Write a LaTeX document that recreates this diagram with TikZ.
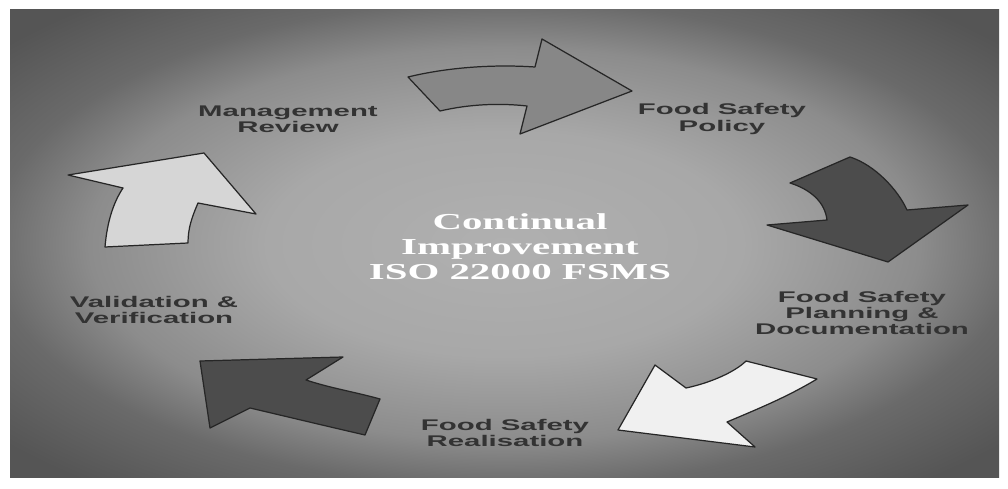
\documentclass[tikz,border=0pt]{standalone}
\usepackage{fontspec}
\setmainfont{Liberation Serif}
\setsansfont{Liberation Sans}
\usepackage{tikz}

\definecolor{bglight}{HTML}{B0B0B0}
\definecolor{bgsoft}{HTML}{A8A8A8}
\definecolor{bgmid}{HTML}{8C8C8C}
\definecolor{bgshadow}{HTML}{6A6A6A}
\definecolor{bgdark}{HTML}{555555}
\definecolor{labelgray}{HTML}{333333}
\definecolor{arrowmid}{HTML}{878787}
\definecolor{arrowdark}{HTML}{4C4C4C}
\definecolor{arrowlight}{HTML}{F0F0F0}
\definecolor{arrowpale}{HTML}{D6D6D6}
\pgfdeclareradialshading{bgglow}{\pgfpoint{0bp}{0bp}}{color(0bp)=(bglight); color(12bp)=(bgsoft); color(21bp)=(bgmid); color(26bp)=(bgshadow); color(33bp)=(bgdark); color(45bp)=(bgdark)}

\begin{document}
\begin{tikzpicture}[x=0.02cm,y=-0.02cm,
    arrowshape/.style={draw=black!85,line width=0.7pt,line join=round},
    steplabel/.style={font=\sffamily\bfseries\fontsize{8.8}{9.3}\selectfont,text=labelgray,align=center,xscale=1.9},
    centretext/.style={font=\bfseries\fontsize{13}{14.2}\selectfont,text=white,align=center,xscale=1.79}]
    \fill [white] (0,0) rectangle (1008,489);
    \useasboundingbox (0,0) rectangle (1008,489);
    \shade [shading=bgglow] (10,10) rectangle (999,478);

    % the five arrows of the cycle
    \draw [arrowshape,fill=arrowmid] (408,77) -- (440,111) .. controls (470,104) and (500,103) .. (527,106) -- (520,134) -- (632,91) -- (542,39) -- (535,67) .. controls (490,64) and (445,68) .. (408,77) -- cycle;
    \draw [arrowshape,fill=arrowdark] (850,157) -- (790,183) .. controls (812,190) and (825,203) .. (827,220) -- (767,225) -- (888,262) -- (968,205) -- (907,210) .. controls (898,190) and (875,165) .. (850,157) -- cycle;
    \draw [arrowshape,fill=arrowlight] (655,365) -- (686,388) .. controls (710,383) and (735,372) .. (746,361) -- (817,379) .. controls (787,397) and (760,408) .. (727,422) -- (755,447) -- (618,430) -- cycle;
    \draw [arrowshape,fill=arrowdark] (200,361) -- (343,357) -- (306,380) .. controls (330,388) and (355,392) .. (380,399) -- (365,435) .. controls (313,423) and (280,415) .. (250,408) -- (210,428) -- cycle;
    \draw [arrowshape,fill=arrowpale] (68,175) -- (204,153) -- (256,214) -- (198,203) .. controls (192,217) and (188,228) .. (188,243) -- (105,247) .. controls (107,223) and (113,203) .. (123,188) -- cycle;

    % labels
    \node [centretext] (centre) at (520,247) {Continual\\Improvement\\ISO 22000 FSMS};
    \node [steplabel] (review) at (288,119) {Management\\Review};
    \node [steplabel] (policy) at (722,119) {Food Safety\\Policy};
    \node [steplabel] (planning) at (862,313) {Food Safety\\Planning \&\\Documentation};
    \node [steplabel] (realisation) at (505,433) {Food Safety\\Realisation};
    \node [steplabel] (validation) at (154,310) {Validation \&\\Verification};
\end{tikzpicture}
\end{document}
